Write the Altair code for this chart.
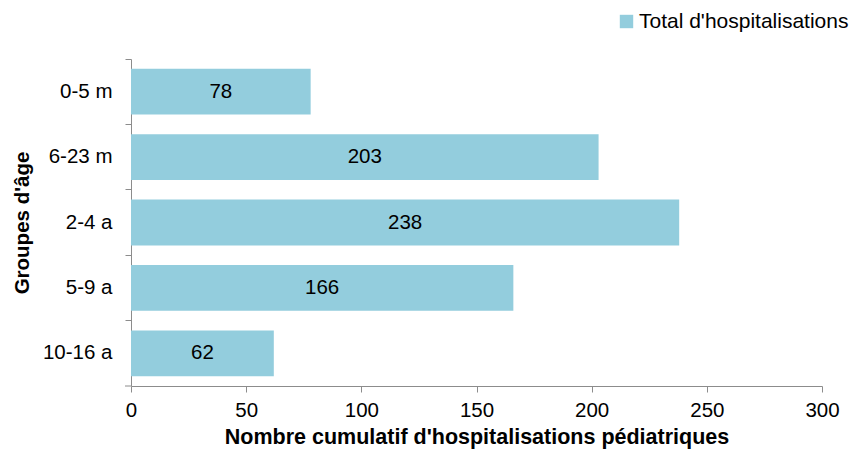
import altair as alt
import pandas as pd

categories = ["0-5 m", "6-23 m", "2-4 a", "5-9 a", "10-16 a"]
values = [78, 203, 238, 166, 62]
series = "Total d'hospitalisations"

df = pd.DataFrame({"age": categories, "n": values, "serie": [series] * len(categories)})
df["half"] = df["n"] / 2

FONT = "Liberation Sans"
FS = 20.5
W, H = 691, 327

y_enc = alt.Y("age:N", sort=categories,
              scale=alt.Scale(paddingInner=0, paddingOuter=0),
              axis=alt.Axis(title="Groupes d'âge", titleFont=FONT, titleFontSize=20.5,
                            titleFontWeight="bold", titleColor="black", titlePadding=10,
                            labelFont=FONT, labelFontSize=FS, labelColor="black",
                            labelPadding=13, tickSize=6, tickColor="#8c8c8c",
                            domainColor="#8c8c8c", bandPosition=0))

x_enc = alt.X("n:Q", scale=alt.Scale(domain=[0, 300]),
              axis=alt.Axis(title="Nombre cumulatif d'hospitalisations pédiatriques",
                            values=[0, 50, 100, 150, 200, 250, 300],
                            titleFont=FONT, titleFontSize=21.5, titleFontWeight="bold",
                            titleColor="black", titlePadding=6,
                            labelFont=FONT, labelFontSize=FS, labelColor="black",
                            labelFlush=False,
                            labelPadding=8, tickSize=6, tickColor="#8c8c8c",
                            domainColor="#8c8c8c", grid=False))

bars = alt.Chart(df).mark_bar(height={"band": 0.7}, color="#93CDDD").encode(
    x=x_enc,
    y=y_enc,
    color=alt.Color("serie:N", scale=alt.Scale(range=["#93CDDD"]),
                    legend=alt.Legend(title=None, orient="none", legendX=485, legendY=-48,
                                      symbolType="square", symbolSize=180,
                                      symbolStrokeWidth=0, labelFont=FONT,
                                      labelFontSize=21, labelColor="black",
                                      labelOffset=2, labelLimit=400)),
)

labels = alt.Chart(df).mark_text(font=FONT, fontSize=FS, color="black").encode(
    x=alt.X("half:Q"),
    y=alt.Y("age:N", sort=categories),
    text=alt.Text("n:Q"),
)

bottom_tick = alt.Chart(df.head(1)).mark_rule(color="#8c8c8c").encode(
    x=alt.value(-6), x2=alt.value(0), y=alt.value(H)
)

chart = alt.layer(bars, labels, bottom_tick).properties(
    width=W, height=H,
    autosize=alt.AutoSizeParams(type="none"),
    padding={"left": 123, "top": 51, "right": 29, "bottom": 66},
).configure_view(stroke=None).configure_axis(domainWidth=1, tickWidth=1)

chart.save("out.html", embed_options={"renderer": "svg", "actions": False})
